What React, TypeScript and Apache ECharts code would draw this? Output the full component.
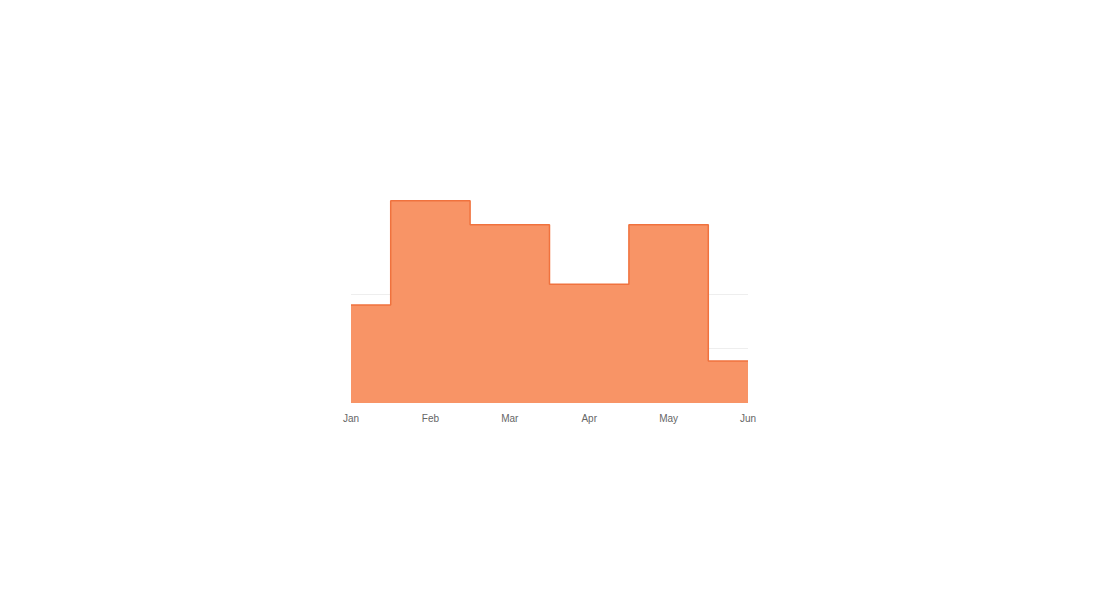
import { useEffect, useRef } from "react";
import * as echarts from "echarts";

const months = ["Jan", "Feb", "Mar", "Apr", "May", "Jun"];
const values = [180, 371, 327, 218, 327, 77];
// only the 100 and 200 grid lines are drawn
const gridColors = ["transparent", "#eeeeee", "#eeeeee", "transparent", "transparent"];

export default function App() {
  const chartRef = useRef(null);

  useEffect(() => {
    const chart = echarts.init(chartRef.current, null, { renderer: "svg" });

    chart.setOption({
      animation: false,
      grid: { left: 351, right: 352, top: 185, bottom: 208 },
      xAxis: {
        type: "category",
        data: months,
        boundaryGap: false,
        axisLine: { show: false },
        axisTick: { show: false },
        axisLabel: {
          color: "#666",
          fontSize: 10,
          fontFamily: "Liberation Sans, Arial, sans-serif",
          margin: 10,
          showMaxLabel: true,
          showMinLabel: true,
        },
      },
      yAxis: {
        type: "value",
        min: 0,
        max: 400,
        interval: 100,
        axisLabel: { show: false },
        axisLine: { show: false },
        axisTick: { show: false },
        splitLine: { lineStyle: { color: gridColors, width: 1 } },
      },
      series: [
        {
          type: "line",
          step: "middle",
          data: values,
          symbol: "none",
          lineStyle: { color: "#f0723e", width: 1.5 },
          areaStyle: { color: "#f89466", opacity: 1 },
        },
      ],
    });

    return () => {
      chart.dispose();
    };
  }, []);

  return (
    <div
      ref={chartRef}
      style={{ position: "absolute", left: 0, top: 0, width: "1100px", height: "611px" }}
    />
  );
}
